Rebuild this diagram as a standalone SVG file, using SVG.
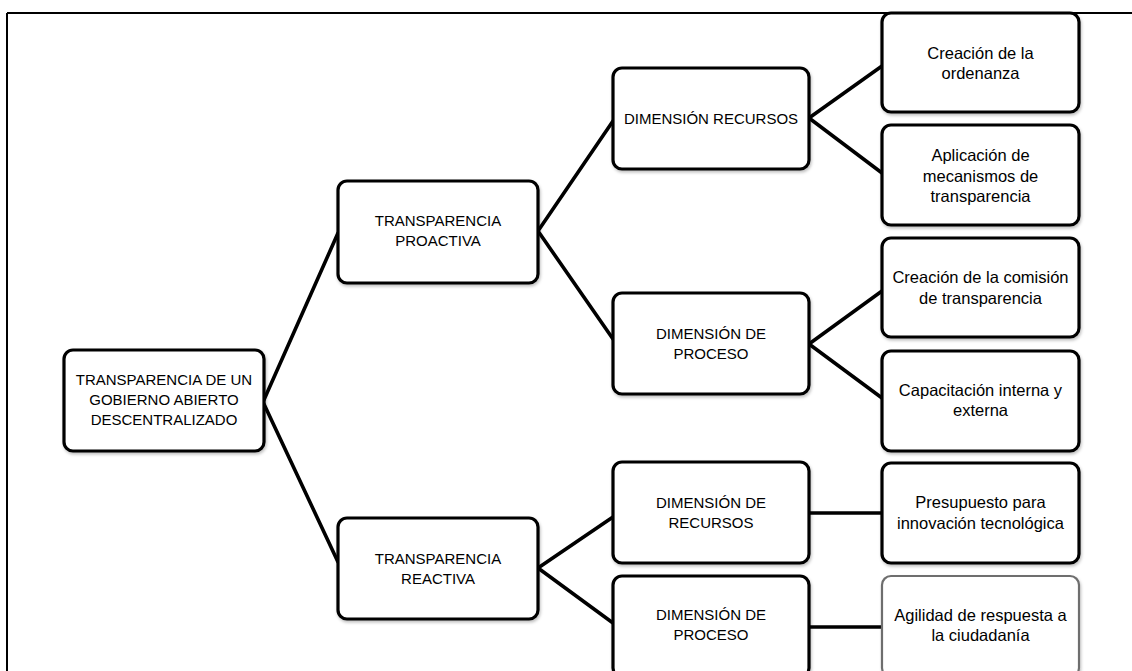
<svg xmlns="http://www.w3.org/2000/svg" width="1132" height="671" viewBox="0 0 1132 671">
<style>
.box{fill:#fff;stroke:#000;stroke-width:3.2}
.box2{fill:#fff;stroke:#6e6e6e;stroke-width:2.2}
.t{font-family:"Liberation Sans",Arial,sans-serif;fill:#000;text-anchor:middle}
.cap{font-size:15px}
.low{font-size:16.5px}
.con{stroke:#000;stroke-width:3.6;fill:none;stroke-linecap:round}
</style>
<defs>
<filter id="sh" x="-10%" y="-10%" width="125%" height="130%">
<feDropShadow dx="1" dy="2" stdDeviation="1.5" flood-color="#000" flood-opacity="0.25"/>
</filter>
</defs>
<rect width="1132" height="671" fill="#fff"/>
<g id="frame">
<line x1="7" y1="13" x2="1132" y2="13" stroke="#000" stroke-width="2"/>
<line x1="7" y1="13" x2="7" y2="671" stroke="#000" stroke-width="2"/>
</g>
<g id="connectors">
<line class="con" x1="263" y1="402" x2="338" y2="233"/>
<line class="con" x1="263" y1="402" x2="338" y2="562"/>
<line class="con" x1="538" y1="231" x2="613" y2="121"/>
<line class="con" x1="538" y1="231" x2="613" y2="339"/>
<line class="con" x1="809" y1="118" x2="882" y2="66"/>
<line class="con" x1="809" y1="118" x2="882" y2="173"/>
<line class="con" x1="809" y1="344" x2="882" y2="291"/>
<line class="con" x1="809" y1="344" x2="882" y2="398"/>
<line class="con" x1="538" y1="568" x2="613" y2="517"/>
<line class="con" x1="538" y1="568" x2="613" y2="623"/>
<line class="con" x1="809" y1="513" x2="882" y2="513"/>
<line class="con" x1="809" y1="627" x2="882" y2="627"/>
</g>
<g id="n-root">
<rect class="box" filter="url(#sh)" x="64" y="350" width="200" height="101" rx="9"/>
<text class="t cap" x="164" y="385">TRANSPARENCIA DE UN</text>
<text class="t cap" x="164" y="405">GOBIERNO ABIERTO</text>
<text class="t cap" x="164" y="425">DESCENTRALIZADO</text>
</g>
<g id="n-proactiva">
<rect class="box" filter="url(#sh)" x="338" y="181" width="200" height="102" rx="9"/>
<text class="t cap" x="438" y="226">TRANSPARENCIA</text>
<text class="t cap" x="438" y="246">PROACTIVA</text>
</g>
<g id="n-reactiva">
<rect class="box" filter="url(#sh)" x="338" y="518" width="200" height="101" rx="9"/>
<text class="t cap" x="438" y="564">TRANSPARENCIA</text>
<text class="t cap" x="438" y="584">REACTIVA</text>
</g>
<g id="n-dim-recursos">
<rect class="box" filter="url(#sh)" x="613" y="68" width="196" height="101" rx="9"/>
<text class="t cap" x="711" y="124">DIMENSIÓN RECURSOS</text>
</g>
<g id="n-dim-proceso-1">
<rect class="box" filter="url(#sh)" x="613" y="293" width="196" height="101" rx="9"/>
<text class="t cap" x="711" y="339">DIMENSIÓN DE</text>
<text class="t cap" x="711" y="359">PROCESO</text>
</g>
<g id="n-dim-de-recursos">
<rect class="box" filter="url(#sh)" x="613" y="462" width="196" height="101" rx="9"/>
<text class="t cap" x="711" y="508">DIMENSIÓN DE</text>
<text class="t cap" x="711" y="528">RECURSOS</text>
</g>
<g id="n-dim-proceso-2">
<rect class="box" filter="url(#sh)" x="613" y="576" width="196" height="101" rx="9"/>
<text class="t cap" x="711" y="620">DIMENSIÓN DE</text>
<text class="t cap" x="711" y="640">PROCESO</text>
</g>
<g id="n-ordenanza">
<rect class="box" filter="url(#sh)" x="882" y="13" width="197" height="99" rx="9"/>
<text class="t low" x="980.5" y="59">Creación de la</text>
<text class="t low" x="980.5" y="79">ordenanza</text>
</g>
<g id="n-aplicacion">
<rect class="box" filter="url(#sh)" x="882" y="125" width="197" height="100" rx="9"/>
<text class="t low" x="980.5" y="161">Aplicación de</text>
<text class="t low" x="980.5" y="182">mecanismos de</text>
<text class="t low" x="980.5" y="202">transparencia</text>
</g>
<g id="n-comision">
<rect class="box" filter="url(#sh)" x="882" y="238" width="197" height="99" rx="9"/>
<text class="t low" x="980.5" y="283">Creación de la comisión</text>
<text class="t low" x="980.5" y="304">de transparencia</text>
</g>
<g id="n-capacitacion">
<rect class="box" filter="url(#sh)" x="882" y="351" width="197" height="100" rx="9"/>
<text class="t low" x="980.5" y="396">Capacitación interna y</text>
<text class="t low" x="980.5" y="416">externa</text>
</g>
<g id="n-presupuesto">
<rect class="box" filter="url(#sh)" x="882" y="463" width="197" height="100" rx="9"/>
<text class="t low" x="980.5" y="508">Presupuesto para</text>
<text class="t low" x="980.5" y="529">innovación tecnológica</text>
</g>
<g id="n-agilidad">
<rect class="box2" filter="url(#sh)" x="882" y="576" width="197" height="101" rx="9"/>
<text class="t low" x="980.5" y="621">Agilidad de respuesta a</text>
<text class="t low" x="980.5" y="641">la ciudadanía</text>
</g>
</svg>
